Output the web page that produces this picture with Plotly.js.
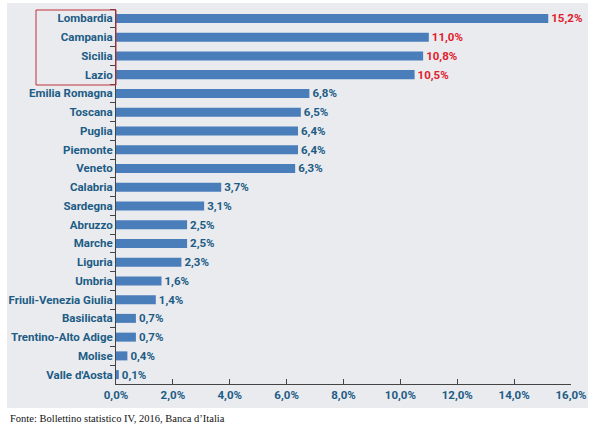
<!DOCTYPE html>
<html><head><meta charset="utf-8">
<script src="https://cdn.plot.ly/plotly-3.0.1.min.js"></script>
<style>html,body{margin:0;padding:0;background:#fff}#chart{width:600px;height:429px}</style>
</head><body><div id="chart"></div>
<script>
const regions = ["Lombardia","Campania","Sicilia","Lazio","Emilia Romagna","Toscana","Puglia","Piemonte","Veneto","Calabria","Sardegna","Abruzzo","Marche","Liguria","Umbria","Friuli-Venezia Giulia","Basilicata","Trentino-Alto Adige","Molise","Valle d'Aosta"];
const shares = [15.2,11.0,10.8,10.5,6.8,6.5,6.4,6.4,6.3,3.7,3.1,2.5,2.5,2.3,1.6,1.4,0.7,0.7,0.4,0.1];
const highlighted = ["Lombardia","Campania","Sicilia","Lazio"];
const xTicks = [0,2,4,6,8,10,12,14,16];
const source = "Fonte: Bollettino statistico IV, 2016, Banca d\u2019Italia";

const teal = "#1d5c85";
const red = "#e0202c";
const labels = shares.map(v => v.toFixed(1).replace('.', ',') + '%');
const labelColors = regions.map(r => highlighted.includes(r) ? red : teal);

const L = 116, R = 29, T = 9, B = 45, W = 600, H = 429;
const pw = W - L - R, ph = H - T - B;
const px = x => (x - L) / pw;
const py = y => (H - B - y) / ph;
const fam = 'Roboto, sans-serif';

const trace = {
  type: 'bar', orientation: 'h',
  x: shares, y: regions,
  marker: {color: '#4a7ebb'},
  text: labels, textposition: 'outside', cliponaxis: false, constraintext: 'none',
  textfont: {family: fam, size: 11.5, color: labelColors, weight: 'bold'},
  hoverinfo: 'none'
};

const layout = {
  width: W, height: H,
  margin: {l: L, r: R, t: T, b: B, pad: 0},
  paper_bgcolor: '#ffffff', plot_bgcolor: 'rgba(0,0,0,0)',
  showlegend: false,
  bargap: 0.52,
  separators: ',.',
  xaxis: {
    range: [0, 16], tickvals: xTicks, ticktext: xTicks.map(v => v.toFixed(1).replace('.', ',') + '%'),
    showgrid: false, zeroline: false, showline: true, linecolor: '#444', linewidth: 1,
    ticks: 'inside', ticklen: 5, tickcolor: '#444',
    tickfont: {family: fam, size: 11.5, color: teal, weight: 'bold'},
    fixedrange: true
  },
  yaxis: {
    autorange: 'reversed', type: 'category',
    showgrid: false, zeroline: false, showline: true, linecolor: '#444', linewidth: 1,
    ticks: 'outside', ticklen: 5, tickcolor: '#444', tickson: 'boundaries',
    tickfont: {family: fam, size: 11.5, color: teal, weight: 'bold'},
    fixedrange: true
  },
  shapes: [
    {type: 'rect', xref: 'paper', yref: 'paper', layer: 'below',
     x0: px(7), x1: px(588), y0: py(408), y1: py(3),
     fillcolor: '#e9ebef', line: {width: 0}},
    {type: 'rect', xref: 'paper', yref: 'paper', layer: 'above',
     x0: px(36), x1: px(116), y0: py(85), y1: py(10),
     fillcolor: 'rgba(0,0,0,0)', line: {color: '#c0303a', width: 1}}
  ],
  annotations: [
    {xref: 'paper', yref: 'paper', x: px(8), y: py(418), xanchor: 'left', yanchor: 'middle',
     text: source, showarrow: false,
     font: {family: 'Liberation Serif, serif', size: 10.5, color: '#111'}}
  ]
};

Plotly.newPlot('chart', [trace], layout, {displayModeBar: false, staticPlot: true});
</script></body></html>
